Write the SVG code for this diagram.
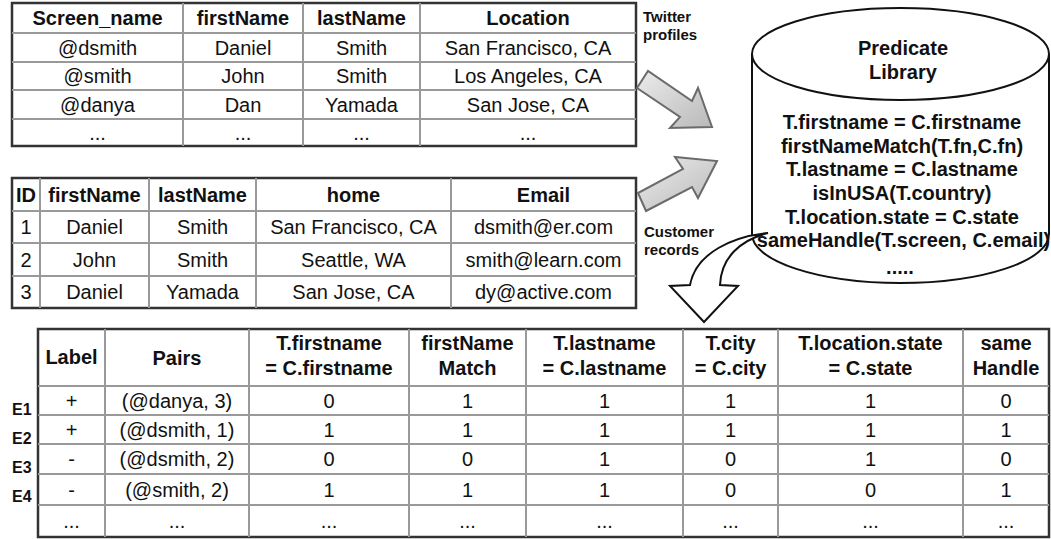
<svg xmlns="http://www.w3.org/2000/svg" width="1051" height="539" viewBox="0 0 1051 539">
  <style>
    text { font-family: "Liberation Sans", Arial, sans-serif; fill: #111; text-anchor: middle; }
    .h { font-size: 20px; font-weight: bold; }
    .d { font-size: 20px; }
    .sm { font-size: 15px; font-weight: bold; text-anchor: start; }
    .id { font-size: 16px; font-weight: bold; text-anchor: start; }
    .pl { font-size: 20px; font-weight: bold; }
    .frame { fill: #fff; stroke: #333; stroke-width: 2.5; }
    .grid { stroke: #999; stroke-width: 2; fill: none; }
    .flow { fill: url(#flowFill); stroke: #6b6b6b; stroke-width: 2; stroke-linejoin: miter; }
    .curl { fill: #fff; stroke: #111; stroke-width: 2; stroke-linejoin: miter; }
    .cyl { fill: #fff; stroke: #111; stroke-width: 2; }
  </style>
  <defs>
    <linearGradient id="flowFill" x1="0" y1="0" x2="1" y2="1">
      <stop offset="0" stop-color="#ececec"/>
      <stop offset="1" stop-color="#b9b9b9"/>
    </linearGradient>
  </defs>
  <rect width="1051" height="539" fill="#fff"/>

  <!-- Twitter profiles table -->
  <g id="twitter-table">
    <rect class="frame" x="12" y="3" width="624" height="143"/>
    <path class="grid" d="M12 33H636M12 62H636M12 90H636M12 119H636M183 3V146M303 3V146M420 3V146"/>
    <text class="h" x="97.5" y="25">Screen_name</text>
    <text class="h" x="243" y="25">firstName</text>
    <text class="h" x="361.5" y="25">lastName</text>
    <text class="h" x="528" y="25">Location</text>
    <text class="d" x="97.5" y="54.5">@dsmith</text>
    <text class="d" x="243" y="54.5">Daniel</text>
    <text class="d" x="361.5" y="54.5">Smith</text>
    <text class="d" x="528" y="54.5">San Francisco, CA</text>
    <text class="d" x="97.5" y="83">@smith</text>
    <text class="d" x="243" y="83">John</text>
    <text class="d" x="361.5" y="83">Smith</text>
    <text class="d" x="528" y="83">Los Angeles, CA</text>
    <text class="d" x="97.5" y="111.5">@danya</text>
    <text class="d" x="243" y="111.5">Dan</text>
    <text class="d" x="361.5" y="111.5">Yamada</text>
    <text class="d" x="528" y="111.5">San Jose, CA</text>
    <text class="d" x="97.5" y="139.5">...</text>
    <text class="d" x="243" y="139.5">...</text>
    <text class="d" x="361.5" y="139.5">...</text>
    <text class="d" x="528" y="139.5">...</text>
  </g>

  <!-- Customer records table -->
  <g id="customer-table">
    <rect class="frame" x="12" y="178" width="624" height="130"/>
    <path class="grid" d="M12 211H636M12 243H636M12 276H636M40 178V308M149 178V308M256 178V308M451 178V308"/>
    <text class="h" x="26" y="201.5">ID</text>
    <text class="h" x="94.5" y="201.5">firstName</text>
    <text class="h" x="202.5" y="201.5">lastName</text>
    <text class="h" x="353.5" y="201.5">home</text>
    <text class="h" x="543.5" y="201.5">Email</text>
    <text class="d" x="26" y="234">1</text>
    <text class="d" x="94.5" y="234">Daniel</text>
    <text class="d" x="202.5" y="234">Smith</text>
    <text class="d" x="353.5" y="234">San Francisco, CA</text>
    <text class="d" x="543.5" y="234">dsmith@er.com</text>
    <text class="d" x="26" y="266.5">2</text>
    <text class="d" x="94.5" y="266.5">John</text>
    <text class="d" x="202.5" y="266.5">Smith</text>
    <text class="d" x="353.5" y="266.5">Seattle, WA</text>
    <text class="d" x="543.5" y="266.5">smith@learn.com</text>
    <text class="d" x="26" y="299">3</text>
    <text class="d" x="94.5" y="299">Daniel</text>
    <text class="d" x="202.5" y="299">Yamada</text>
    <text class="d" x="353.5" y="299">San Jose, CA</text>
    <text class="d" x="543.5" y="299">dy@active.com</text>
  </g>

  <!-- Source captions -->
  <g id="twitter-caption">
    <text class="sm" x="643" y="22">Twitter</text>
    <text class="sm" x="643" y="40">profiles</text>
  </g>
  <g id="customer-caption">
    <text class="sm" x="644" y="237">Customer</text>
    <text class="sm" x="644" y="255">records</text>
  </g>

  <!-- Predicate library cylinder -->
  <g id="predicate-library">
    <path class="cyl" d="M752 54V234A148.5 49 0 0 0 1049 234V54"/>
    <ellipse class="cyl" cx="900.5" cy="54" rx="148.5" ry="46"/>
    <text class="pl" x="903" y="55">Predicate</text>
    <text class="pl" x="903" y="79">Library</text>
    <text class="pl" x="902" y="129">T.firstname = C.firstname</text>
    <text class="pl" x="902" y="153">firstNameMatch(T.fn,C.fn)</text>
    <text class="pl" x="902" y="176">T.lastname = C.lastname</text>
    <text class="pl" x="902" y="200">isInUSA(T.country)</text>
    <text class="pl" x="902" y="224">T.location.state = C.state</text>
    <text class="pl" x="903.5" y="247">sameHandle(T.screen, C.email)</text>
    <text class="pl" x="900" y="274">.....</text>
  </g>

  <!-- Connectors -->
  <g id="connectors">
    <polygon class="flow" points="637,88 648,71 692,101 698,88 712,127 670,128 680,117"/>
    <polygon class="flow" points="638,193 646,211 692,187 698,198 717,161 675,157 683,169"/>
    <path class="curl" d="M768 233C735 236 696 252 690 285L670 286L704 322L738 286L720 285C721 258 740 240 768 233Z"/>
  </g>

  <!-- Labelled feature table -->
  <g id="feature-table">
    <rect class="frame" x="38" y="329" width="1011" height="208"/>
    <path class="grid" d="M38 386H1049M38 415H1049M38 444H1049M38 474H1049M38 505H1049M105 329V537M249 329V537M409 329V537M526 329V537M683 329V537M778 329V537M963 329V537"/>
    <text class="h" x="71.5" y="364">Label</text>
    <text class="h" x="177" y="365">Pairs</text>
    <text class="h" x="329" y="350">T.firstname</text>
    <text class="h" x="329" y="375">= C.firstname</text>
    <text class="h" x="467.5" y="350">firstName</text>
    <text class="h" x="467.5" y="375">Match</text>
    <text class="h" x="604.5" y="350">T.lastname</text>
    <text class="h" x="604.5" y="375">= C.lastname</text>
    <text class="h" x="730.5" y="350">T.city</text>
    <text class="h" x="730.5" y="375">= C.city</text>
    <text class="h" x="870.5" y="350">T.location.state</text>
    <text class="h" x="870.5" y="375">= C.state</text>
    <text class="h" x="1006" y="350">same</text>
    <text class="h" x="1006" y="375">Handle</text>

    <text class="d" x="71.5" y="407.5">+</text>
    <text class="d" x="177" y="407.5">(@danya, 3)</text>
    <text class="d" x="329" y="407.5">0</text>
    <text class="d" x="467.5" y="407.5">1</text>
    <text class="d" x="604.5" y="407.5">1</text>
    <text class="d" x="730.5" y="407.5">1</text>
    <text class="d" x="870.5" y="407.5">1</text>
    <text class="d" x="1006" y="407.5">0</text>

    <text class="d" x="71.5" y="436.5">+</text>
    <text class="d" x="177" y="436.5">(@dsmith, 1)</text>
    <text class="d" x="329" y="436.5">1</text>
    <text class="d" x="467.5" y="436.5">1</text>
    <text class="d" x="604.5" y="436.5">1</text>
    <text class="d" x="730.5" y="436.5">1</text>
    <text class="d" x="870.5" y="436.5">1</text>
    <text class="d" x="1006" y="436.5">1</text>

    <text class="d" x="71.5" y="466">-</text>
    <text class="d" x="177" y="466">(@dsmith, 2)</text>
    <text class="d" x="329" y="466">0</text>
    <text class="d" x="467.5" y="466">0</text>
    <text class="d" x="604.5" y="466">1</text>
    <text class="d" x="730.5" y="466">0</text>
    <text class="d" x="870.5" y="466">1</text>
    <text class="d" x="1006" y="466">0</text>

    <text class="d" x="71.5" y="496.5">-</text>
    <text class="d" x="177" y="496.5">(@smith, 2)</text>
    <text class="d" x="329" y="496.5">1</text>
    <text class="d" x="467.5" y="496.5">1</text>
    <text class="d" x="604.5" y="496.5">1</text>
    <text class="d" x="730.5" y="496.5">0</text>
    <text class="d" x="870.5" y="496.5">0</text>
    <text class="d" x="1006" y="496.5">1</text>

    <text class="d" x="71.5" y="528">...</text>
    <text class="d" x="177" y="528">...</text>
    <text class="d" x="329" y="528">...</text>
    <text class="d" x="467.5" y="528">...</text>
    <text class="d" x="604.5" y="528">...</text>
    <text class="d" x="730.5" y="528">...</text>
    <text class="d" x="870.5" y="528">...</text>
    <text class="d" x="1006" y="528">...</text>
  </g>

  <!-- Example identifiers -->
  <g id="example-ids">
    <text class="id" x="12" y="415">E1</text>
    <text class="id" x="12" y="444">E2</text>
    <text class="id" x="12" y="473">E3</text>
    <text class="id" x="12" y="502">E4</text>
  </g>
</svg>
